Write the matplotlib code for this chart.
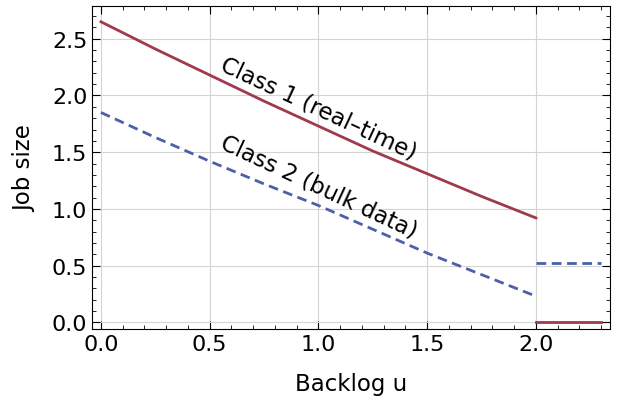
import numpy as np
import matplotlib
matplotlib.use("Agg")
import matplotlib.pyplot as plt
from matplotlib.ticker import MultipleLocator

# backlog grid and job sizes
u = [0.0, 0.25, 0.5, 0.75, 1.0, 1.25, 1.5, 1.75, 2.0]
class1 = [2.65, 2.41, 2.18, 1.95, 1.73, 1.51, 1.31, 1.11, 0.92]
class2 = [1.85, 1.63, 1.42, 1.22, 1.03, 0.82, 0.61, 0.42, 0.23]

# beyond u = 2 both sizes are constant
u_tail = [2.0, 2.3]
class1_tail = [0.0, 0.0]
class2_tail = [0.52, 0.52]

red = "#a03a4b"
blue = "#4b60a8"

plt.rcParams['font.size'] = 16

fig = plt.figure(figsize=(6.32, 4.06), dpi=100)
ax = fig.add_axes([0.146, 0.187, 0.819, 0.796])

ax.plot(u, class1, color=red, lw=2)
ax.plot(u_tail, class1_tail, color=red, lw=2)
ax.plot(u, class2, color=blue, lw=2, ls=(0, (3.5, 2)))
ax.plot(u_tail, class2_tail, color=blue, lw=2, ls=(0, (3.5, 2)))

ax.text(1.0, 1.89, "Class 1 (real–time)", rotation=-25, ha="center", va="center", fontsize=16.5)
ax.text(1.0, 1.20, "Class 2 (bulk data)", rotation=-25, ha="center", va="center", fontsize=16.5)

ax.set_xlim(-0.04, 2.34)
ax.set_ylim(-0.06, 2.79)
ax.xaxis.set_major_locator(MultipleLocator(0.5))
ax.xaxis.set_minor_locator(MultipleLocator(0.1))
ax.yaxis.set_major_locator(MultipleLocator(0.5))
ax.yaxis.set_minor_locator(MultipleLocator(0.1))
ax.tick_params(which="both", direction="in", top=True, right=True, labelsize=16)
ax.tick_params(which="major", length=6)
ax.tick_params(which="minor", length=3)
ax.grid(True, which="major", color="#d4d4d4", lw=0.8)
ax.set_axisbelow(True)

ax.set_xlabel("Backlog u", labelpad=13, fontsize=16.5)
ax.set_ylabel("Job size", labelpad=11, fontsize=16.5)

fig.savefig("out.png", dpi=100)
